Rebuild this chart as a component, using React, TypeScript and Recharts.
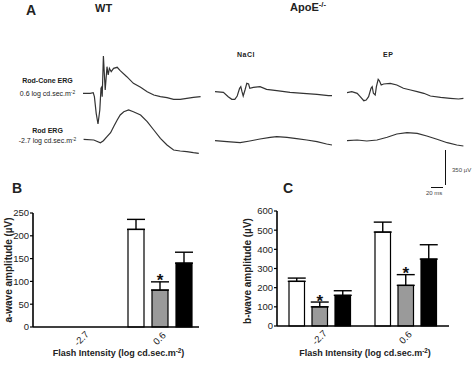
import React from "react";
import {
  BarChart,
  Bar,
  XAxis,
  YAxis,
  ErrorBar,
  LabelList,
  LineChart,
  Line,
} from "recharts";

// ERG traces: [time (ms), amplitude (µV)]
const wtRodCone: [number, number][] = [
  [0, -3], [12, -3], [17, 3], [19, -37], [22, -203], [25, -310], [28, -170],
  [30, 47], [31, 57], [32, -37], [34, 370], [37, 30], [40, 263], [42, 180],
  [44, 247], [47, 213], [51, 247], [57, 257], [62, 223], [73, 163], [84, 97],
  [96, 57], [107, 13], [118, -20], [129, -37], [140, -47], [151, -63],
  [162, -63], [173, -53], [184, -43], [196, -37],
];
const wtRod: [number, number][] = [
  [1, 7], [18, 0], [29, -27], [34, -7], [40, 33], [46, 73], [51, 133],
  [57, 200], [62, 250], [68, 283], [76, 300], [84, 283], [96, 250],
  [107, 183], [118, 100], [129, 17], [140, -50], [151, -100], [162, -110],
  [173, -117], [184, -127], [193, -133],
];
const naclRodCone: [number, number][] = [
  [0, 3], [14, -3], [22, -47], [28, -73], [33, -73], [37, -40], [41, 37],
  [43, 53], [45, 3], [47, -40], [50, 20], [53, 87], [56, 80], [58, 37],
  [64, 47], [75, 53], [86, 27], [103, 13], [125, -3], [147, -13],
  [170, -23], [189, -37], [195, -37],
];
const naclRod: [number, number][] = [
  [0, 3], [20, -7], [42, -17], [58, 0], [75, 20], [92, 37], [103, 43],
  [120, 37], [136, 23], [153, 10], [170, -7], [186, -30], [195, -40],
];
const epRodCone: [number, number][] = [
  [0, 3], [8, 13], [17, -3], [22, -37], [28, -77], [32, -70], [36, -37],
  [40, 47], [42, 63], [44, -3], [47, -20], [49, 63], [52, 137], [54, 123],
  [57, 80], [61, 90], [72, 97], [83, 80], [94, 47], [106, 30], [117, 13],
  [128, -3], [139, -30], [156, -43], [172, -53], [186, -60], [194, -53],
];
const epRod: [number, number][] = [
  [0, 3], [17, 10], [33, 0], [50, 10], [67, 37], [83, 70], [100, 83],
  [117, 77], [133, 50], [150, 17], [167, -17], [183, -40], [194, -50],
];

// bar panels
const intensities = ["-2.7", "0.6"];
const aWaveWT = [null, 214];
const aWaveWTErr = [null, 22];
const aWaveNaCl = [null, 81];
const aWaveNaClErr = [null, 18];
const aWaveEP = [null, 140];
const aWaveEPErr = [null, 24];
const aWaveTicks = [0, 50, 100, 150, 200, 250];

const bWaveWT = [233, 490];
const bWaveWTErr = [17, 52];
const bWaveNaCl = [100, 212];
const bWaveNaClErr = [25, 56];
const bWaveEP = [160, 349];
const bWaveEPErr = [24, 75];
const bWaveTicks = [0, 100, 200, 300, 400, 500, 600];

const makeRows = (
  wt: (number | null)[],
  wtErr: (number | null)[],
  nacl: (number | null)[],
  naclErr: (number | null)[],
  ep: (number | null)[],
  epErr: (number | null)[]
) =>
  intensities.map((name, i) => ({
    name,
    wt: wt[i],
    wtErr: wtErr[i] == null ? null : [0, wtErr[i]],
    nacl: nacl[i],
    naclErr: naclErr[i] == null ? null : [0, naclErr[i]],
    ep: ep[i],
    epErr: epErr[i] == null ? null : [0, epErr[i]],
  }));

const aWaveData = makeRows(aWaveWT, aWaveWTErr, aWaveNaCl, aWaveNaClErr, aWaveEP, aWaveEPErr);
const bWaveData = makeRows(bWaveWT, bWaveWTErr, bWaveNaCl, bWaveNaClErr, bWaveEP, bWaveEPErr);

const FONT = "'Liberation Sans', Arial, sans-serif";
const UV_PER_PX = 10; // 350 µV scale bar = 35 px

const TraceChart = ({
  trace,
  left,
  top,
  height,
  zeroAt,
}: {
  trace: [number, number][];
  left: number;
  top: number;
  height: number;
  zeroAt: number;
}) => (
  <div style={{ position: "absolute", left, top }}>
    <LineChart
      width={120}
      height={height}
      data={trace.map(([t, v]) => ({ t, v }))}
      margin={{ top: 0, right: 0, bottom: 0, left: 0 }}
    >
      <XAxis dataKey="t" type="number" domain={[0, 200]} hide />
      <YAxis
        type="number"
        domain={[-(height - zeroAt) * UV_PER_PX, zeroAt * UV_PER_PX]}
        allowDataOverflow
        hide
      />
      <Line
        dataKey="v"
        type="linear"
        stroke="#333"
        strokeWidth={1.2}
        dot={false}
        isAnimationActive={false}
      />
    </LineChart>
  </div>
);

const RotTick = (props: any) => {
  const { x, y, payload } = props;
  const cy = y + 12;
  return (
    <text
      x={x}
      y={cy}
      transform={`rotate(-45 ${x} ${cy})`}
      textAnchor="middle"
      dominantBaseline="middle"
      fontSize={9.5}
      fill="#222"
    >
      {payload.value}
    </text>
  );
};

// significance star, placed just above the top of the error bar
const starLabel = (vals: (number | null)[], errs: (number | null)[]) => (props: any) => {
  const vb = props.viewBox || {};
  const x = props.x ?? vb.x;
  const y = props.y ?? vb.y;
  const width = props.width ?? vb.width;
  const height = props.height ?? vb.height;
  const { value } = props;
  if (value == null || !value) return null;
  const err = errs[vals.indexOf(value)];
  if (err == null) return null;
  const capY = y - (err * height) / value;
  return (
    <text
      x={x + width / 2}
      y={capY + 4.5}
      textAnchor="middle"
      fontSize={17}
      fontWeight="bold"
      fill="#111"
    >
      *
    </text>
  );
};

const Txt = ({
  left,
  top,
  size,
  bold,
  children,
  style,
}: {
  left: number;
  top: number;
  size: number;
  bold?: boolean;
  children: React.ReactNode;
  style?: React.CSSProperties;
}) => (
  <div
    style={{
      position: "absolute",
      left,
      top,
      fontSize: size,
      fontWeight: bold ? "bold" : "normal",
      lineHeight: 1,
      whiteSpace: "nowrap",
      color: "#222",
      ...style,
    }}
  >
    {children}
  </div>
);

const sup: React.CSSProperties = { fontSize: "0.7em", verticalAlign: "0.5em", lineHeight: 0 };

const axisStyle = { stroke: "#000", strokeWidth: 1.6 };

const AmpChart = ({
  data,
  domain,
  ticks,
  yWidth,
  width,
  marginTop,
  marginBottom,
  barSize,
  barGap,
  padLeft,
  naclVals,
  naclErrs,
}: any) => (
  <BarChart
    width={width}
    height={167}
    data={data}
    margin={{ top: marginTop, right: 6, bottom: marginBottom, left: 0 }}
    barSize={barSize}
    barGap={barGap}
  >
    <XAxis
      dataKey="name"
      axisLine={axisStyle}
      tickLine={false}
      tickSize={0}
      tickMargin={0}
      height={30}
      interval={0}
      padding={{ left: padLeft, right: 0 }}
      tick={(p: any) => <RotTick {...p} />}
    />
    <YAxis
      domain={domain}
      ticks={ticks}
      width={yWidth}
      axisLine={axisStyle}
      tickLine={{ stroke: "#000", strokeWidth: 1.2 }}
      tickSize={3}
      tickMargin={1}
      tick={{ fontSize: 9.5, fill: "#222" }}
      interval={0}
    />
    <Bar dataKey="wt" fill="#fff" stroke="#000" strokeWidth={1.2} isAnimationActive={false}>
      <ErrorBar dataKey="wtErr" width={9} stroke="#000" strokeWidth={1.4} />
    </Bar>
    <Bar dataKey="nacl" fill="#9a9a9a" stroke="#000" strokeWidth={1.2} isAnimationActive={false}>
      <ErrorBar dataKey="naclErr" width={9} stroke="#000" strokeWidth={1.4} />
      <LabelList dataKey="nacl" content={starLabel(naclVals, naclErrs)} />
    </Bar>
    <Bar dataKey="ep" fill="#000" stroke="#000" strokeWidth={1.2} isAnimationActive={false}>
      <ErrorBar dataKey="epErr" width={9} stroke="#000" strokeWidth={1.4} />
    </Bar>
  </BarChart>
);

export default function App() {
  return (
    <div
      style={{
        position: "absolute",
        left: 0,
        top: 0,
        width: 474,
        height: 367,
        background: "#fff",
        fontFamily: FONT,
        overflow: "hidden",
      }}
    >
      {/* panel A */}
      <Txt left={26} top={3} size={14} bold>A</Txt>
      <Txt left={95} top={2.6} size={11} bold>WT</Txt>
      <Txt left={290} top={2} size={11} bold>
        ApoE<span style={sup}>-/-</span>
      </Txt>
      <Txt left={237} top={50.8} size={7} bold style={{ letterSpacing: 0.5 }}>NaCl</Txt>
      <Txt left={383} top={50.8} size={7} bold style={{ letterSpacing: 0.5 }}>EP</Txt>
      <div style={{ position: "absolute", left: 7.5, top: 76.8, width: 80, textAlign: "center" }}>
        <Txt left={0} top={0} size={7} bold style={{ position: "static" }}>Rod-Cone ERG</Txt>
      </div>
      <div style={{ position: "absolute", left: 7.5, top: 89.5, width: 80, textAlign: "center" }}>
        <Txt left={0} top={0} size={7} style={{ position: "static" }}>
          0.6 log cd.sec.m<span style={sup}>-2</span>
        </Txt>
      </div>
      <div style={{ position: "absolute", left: 7.5, top: 127.4, width: 80, textAlign: "center" }}>
        <Txt left={0} top={0} size={7} bold style={{ position: "static" }}>Rod ERG</Txt>
      </div>
      <div style={{ position: "absolute", left: 7.5, top: 137, width: 80, textAlign: "center" }}>
        <Txt left={0} top={0} size={7} style={{ position: "static" }}>
          -2.7 log cd.sec.m<span style={sup}>-2</span>
        </Txt>
      </div>

      <TraceChart trace={wtRodCone} left={82.7} top={45} height={90} zeroAt={48} />
      <TraceChart trace={wtRod} left={82.7} top={100} height={65} zeroAt={40} />
      <TraceChart trace={naclRodCone} left={215} top={45} height={90} zeroAt={47} />
      <TraceChart trace={naclRod} left={215} top={100} height={65} zeroAt={41} />
      <TraceChart trace={epRodCone} left={346.7} top={45} height={90} zeroAt={48} />
      <TraceChart trace={epRod} left={346.7} top={100} height={65} zeroAt={41} />

      {/* scale bars */}
      <div style={{ position: "absolute", left: 445, top: 150, width: 1.2, height: 35, background: "#111" }} />
      <div style={{ position: "absolute", left: 431, top: 187, width: 12, height: 1.2, background: "#111" }} />
      <Txt left={452} top={166.5} size={6} style={{ color: "#444" }}>350 µV</Txt>
      <Txt left={426} top={189.5} size={6} style={{ color: "#444" }}>20 ms</Txt>

      {/* panel B */}
      <Txt left={12} top={181} size={14} bold>B</Txt>
      <div style={{ position: "absolute", left: 0, top: 200 }}>
        <AmpChart
          data={aWaveData}
          domain={[0, 250]}
          ticks={aWaveTicks}
          yWidth={33}
          width={205}
          marginTop={13}
          marginBottom={10}
          barSize={16}
          barGap={8}
          padLeft={10}
          naclVals={aWaveNaCl}
          naclErrs={aWaveNaClErr}
        />
      </div>
      <div
        style={{
          position: "absolute",
          left: 9,
          top: 270,
          transform: "translate(-50%, -50%) rotate(-90deg)",
          fontSize: 10,
          fontWeight: "bold",
          whiteSpace: "nowrap",
          lineHeight: 1,
          color: "#222",
        }}
      >
        a-wave amplitude (µV)
      </div>
      <div style={{ position: "absolute", left: 118.5, top: 348.8, transform: "translateX(-50%)" }}>
        <Txt left={0} top={0} size={9} bold style={{ position: "static" }}>
          Flash Intensity (log cd.sec.m<span style={sup}>-2</span>)
        </Txt>
      </div>

      {/* panel C */}
      <Txt left={283} top={181} size={14} bold>C</Txt>
      <div style={{ position: "absolute", left: 240, top: 200 }}>
        <AmpChart
          data={bWaveData}
          domain={[0, 600]}
          ticks={bWaveTicks}
          yWidth={37}
          width={215}
          marginTop={11}
          marginBottom={11}
          barSize={15.5}
          barGap={7.5}
          padLeft={0}
          naclVals={bWaveNaCl}
          naclErrs={bWaveNaClErr}
        />
      </div>
      <div
        style={{
          position: "absolute",
          left: 248,
          top: 271,
          transform: "translate(-50%, -50%) rotate(-90deg)",
          fontSize: 10,
          fontWeight: "bold",
          whiteSpace: "nowrap",
          lineHeight: 1,
          color: "#222",
        }}
      >
        b-wave amplitude (µV)
      </div>
      <div style={{ position: "absolute", left: 365, top: 348.8, transform: "translateX(-50%)" }}>
        <Txt left={0} top={0} size={9} bold style={{ position: "static" }}>
          Flash Intensity (log cd.sec.m<span style={sup}>-2</span>)
        </Txt>
      </div>
    </div>
  );
}
